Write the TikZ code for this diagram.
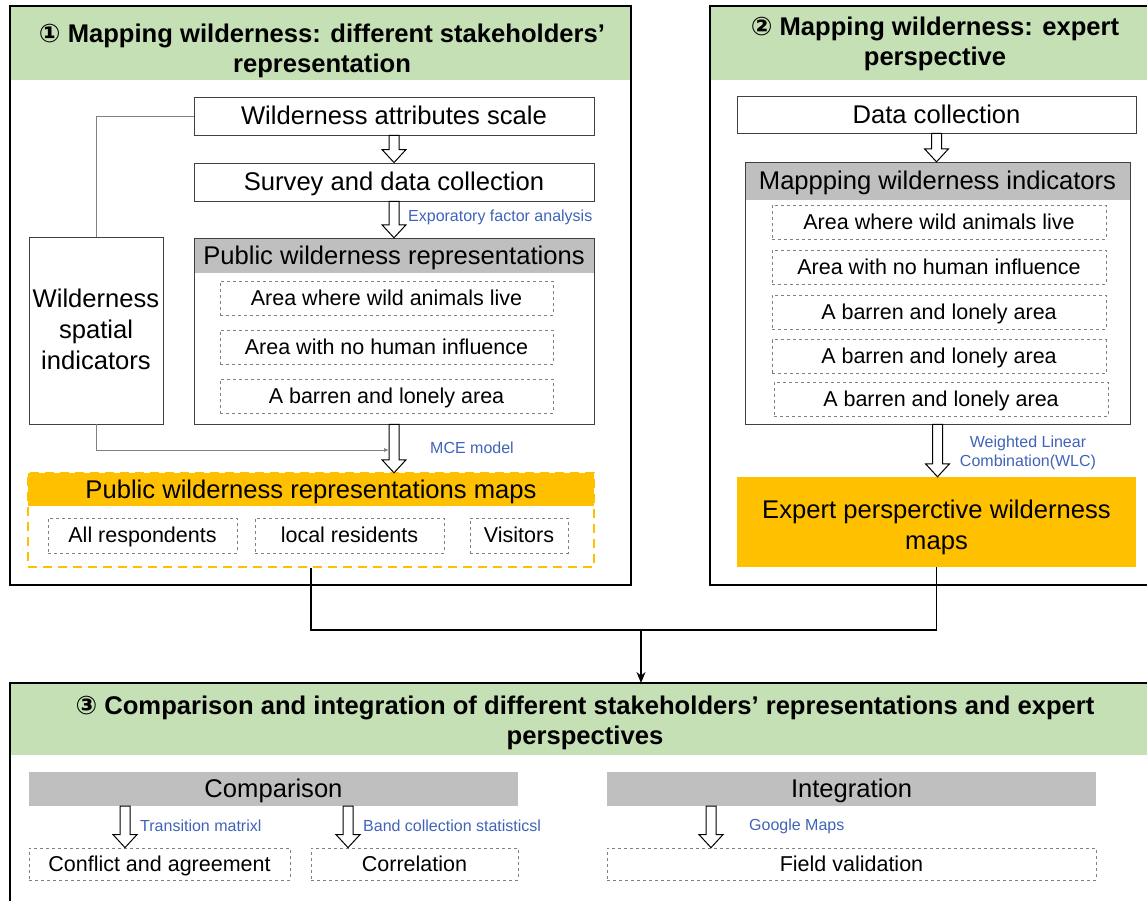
\documentclass[tikz,border=0pt]{standalone}
\usepackage{fontspec}
\setmainfont{Liberation Sans}
\newfontfamily\circfont{DejaVu Sans}
\usetikzlibrary{calc,arrows.meta}

\definecolor{headgreen}{HTML}{C5E0B4}
\definecolor{bargray}{HTML}{BFBFBF}
\definecolor{mapgold}{HTML}{FFC000}
\definecolor{noteblue}{HTML}{3F63B8}
\definecolor{boxline}{HTML}{404040}

\tikzset{
  bigtext/.style={font=\fontsize{25.6}{31}\selectfont,text height=23.2pt,text depth=5.4pt},
  smalltext/.style={font=\fontsize{21.5}{26}\selectfont,text height=19.5pt,text depth=4.6pt},
  plainbox/.style={draw=boxline,line width=0.9pt,fill=white,inner sep=0pt,bigtext},
  groupbox/.style={draw=boxline,line width=0.9pt,inner sep=0pt},
  dashbox/.style={draw=gray,dashed,line width=0.8pt,inner sep=0pt,smalltext},
  graybar/.style={fill=bargray,inner sep=0pt,bigtext},
  goldbar/.style={fill=mapgold,inner sep=0pt,bigtext},
  paneltitle/.style={align=center,inner sep=0pt,font=\fontsize{25.6}{30}\selectfont\bfseries},
  notetext/.style={text=noteblue,inner sep=0pt,font=\fontsize{16}{19}\selectfont},
  hollow/.style={draw=black,line width=1pt,fill=white},
  panellink/.style={draw=black,line width=1.4pt},
  thinlink/.style={draw=gray,line width=0.9pt},
  panelframe/.style={draw=black,line width=1.6pt},
}

% white block arrow pointing down, x taken from #1, tip at the y of #2
\newcommand{\hollowarrow}[2]{%
  \draw[hollow] let \p1=#1, \p2=#2 in
    (\x1-5pt,\y1) -- (\x1-5pt,\y2+13pt) -- (\x1-12pt,\y2+13pt) -- (\x1,\y2)
    -- (\x1+12pt,\y2+13pt) -- (\x1+5pt,\y2+13pt) -- (\x1+5pt,\y1) -- cycle;}

\begin{document}
\begin{tikzpicture}[x=1pt,y=-1pt]
  \useasboundingbox (0,0) rectangle (1147,900);
  \clip (0,0) rectangle (1147,900);

  % panel 1
  \fill[headgreen] (10,6) rectangle (631,80);
  \draw[panelframe] (10,6) rectangle (631,585);
  \draw (322,51) node[paneltitle](t1){{\circfont ①} Mapping wilderness: different stakeholders’\\representation};

  \draw (394,116) node[plainbox,minimum width=400pt,minimum height=38pt](wattr){Wilderness attributes scale};
  \draw (394,182) node[plainbox,minimum width=400pt,minimum height=38pt](survey){Survey and data collection};
  \draw (394,255.5) node[graybar,minimum width=400pt,minimum height=35pt](pubhead){Public wilderness representations};
  \draw (394,331) node[groupbox,minimum width=400pt,minimum height=186pt](pub){};
  \draw (386.5,298) node[dashbox,minimum width=333pt,minimum height=34pt](pa){Area where wild animals live};
  \draw (386.5,347) node[dashbox,minimum width=333pt,minimum height=34pt](pb){Area with no human influence};
  \draw (386.5,396) node[dashbox,minimum width=333pt,minimum height=34pt](pc){A barren and lonely area};
  \draw (96,330.5) node[plainbox,minimum width=134pt,minimum height=187pt,align=center,
    text height=84pt](wsi){Wilderness\\spatial\\indicators};

  \draw (311,489.5) node[goldbar,minimum width=566pt,minimum height=33pt](mapshead){Public wilderness representations maps};
  \draw (311,520) node[draw=mapgold,line width=2pt,dash pattern=on 9pt off 6pt,minimum width=566pt,minimum height=94pt](maps){};
  \draw (142.5,535.5) node[dashbox,minimum width=189pt,minimum height=35pt](allr){All respondents};
  \draw (349.5,535.5) node[dashbox,minimum width=189pt,minimum height=35pt](local){local residents};
  \draw (519,535.5) node[dashbox,minimum width=98pt,minimum height=35pt](visit){Visitors};

  \hollowarrow{(wattr.south)}{(survey.north)}
  \hollowarrow{(survey.south)}{(pubhead.north)}
  \hollowarrow{(pub.south)}{(mapshead.north)}
  \draw (408,217) node[notetext,anchor=west](efa){Exporatory factor analysis};
  \draw (430,448) node[notetext,anchor=west](mce){MCE model};

  \coordinate (mcein) at (389,450);
  \draw[thinlink] (wattr.west) -| (wsi.north);
  \draw[thinlink,-{Latex[length=5pt,width=4pt]}] (wsi.south) |- (mcein);

  % panel 2
  \fill[headgreen] (710,6) rectangle (1160,80);
  \draw[panelframe] (710,6) rectangle (1160,585);
  \draw (935,44) node[paneltitle](t2){{\circfont ②} Mapping wilderness: expert\\perspective};

  \draw (936.5,114.5) node[plainbox,minimum width=399pt,minimum height=37pt](datacol){Data collection};
  \draw (937.5,181) node[graybar,minimum width=385pt,minimum height=38pt](indhead){Mappping wilderness indicators};
  \draw (937.5,293) node[groupbox,minimum width=385pt,minimum height=262pt](ind){};
  \draw (939,222) node[dashbox,minimum width=334pt,minimum height=34pt](ia){Area where wild animals live};
  \draw (939,267) node[dashbox,minimum width=334pt,minimum height=34pt](ib){Area with no human influence};
  \draw (939,312) node[dashbox,minimum width=334pt,minimum height=34pt](ic){A barren and lonely area};
  \draw (939,356.5) node[dashbox,minimum width=334pt,minimum height=34pt](id){A barren and lonely area};
  \draw (941,399) node[dashbox,minimum width=334pt,minimum height=34pt](ie){A barren and lonely area};
  \draw (936.5,522) node[goldbar,minimum width=399pt,minimum height=90pt,align=center,
    text height=54.2pt,text depth=0pt](expert){Expert persperctive wilderness\\maps};

  \hollowarrow{(datacol.south)}{(indhead.north)}
  \hollowarrow{(ind.south)}{(expert.north)}
  \draw (1028,452.5) node[notetext,align=center](wlc){Weighted Linear\\Combination(WLC)};

  % joining both maps into panel 3
  \coordinate (join) at (641,629);
  \coordinate (p3top) at (641,683);
  \draw[panellink] (maps.south) -- ++(0,62) -| (expert.south);
  \draw[panellink,-{Stealth[length=11pt,width=9pt]}] (join) -- (p3top);

  % panel 3
  \fill[headgreen] (10,683) rectangle (1160,755);
  \draw[panelframe] (10,683) rectangle (1160,915);
  \draw (585,723) node[paneltitle](t3){{\circfont ③} Comparison and integration of different stakeholders’ representations and expert\\perspectives};

  \draw (273.5,789) node[graybar,minimum width=489pt,minimum height=34pt](comp){Comparison};
  \draw (851.5,789) node[graybar,minimum width=489pt,minimum height=34pt](integ){Integration};
  \draw (159.5,864) node[dashbox,minimum width=261pt,minimum height=32pt](conflict){Conflict and agreement};
  \draw (414.5,864) node[dashbox,minimum width=207pt,minimum height=32pt](correl){Correlation};
  \draw (851.5,864) node[dashbox,minimum width=489pt,minimum height=32pt](field){Field validation};

  \hollowarrow{([xshift=-148.5pt]comp.south)}{(conflict.north)}
  \hollowarrow{([xshift=74.5pt]comp.south)}{(correl.north)}
  \hollowarrow{([xshift=-140.5pt]integ.south)}{(field.north)}
  \draw (140,826) node[notetext,anchor=west](trans){Transition matrixl};
  \draw (363,826) node[notetext,anchor=west](band){Band collection statisticsl};
  \draw (749,826) node[notetext,anchor=west](gmaps){Google Maps};
\end{tikzpicture}
\end{document}
